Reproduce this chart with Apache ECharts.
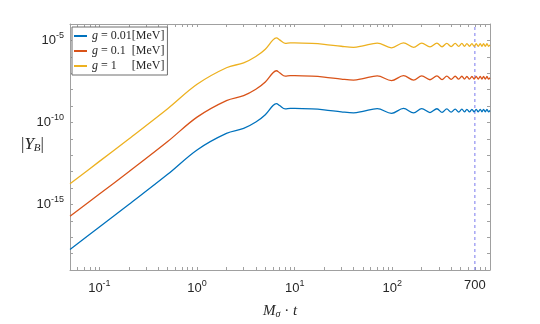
<!DOCTYPE html>
<html>
<head>
<meta charset="utf-8">
<script src="https://cdn.jsdelivr.net/npm/echarts@6/dist/echarts.min.js"></script>
<style>
  html, body { margin: 0; padding: 0; background: #fff; }
  #chart { width: 540px; height: 324px; }
</style>
</head>
<body>
<div id="chart"></div>
<script>
// M_sigma * t
var t = [0.05, 0.1, 0.2, 0.5, 1, 2, 3, 4, 5, 6, 6.5, 7, 8, 9, 10, 15, 20, 30, 40, 50, 70, 98,
  130, 165, 200, 243, 286, 323, 361, 400, 440, 478, 515, 548, 580, 617, 653, 688, 722,
  758, 794, 827, 859, 895, 931, 965, 1000];

// |Y_B| for g = 0.01 MeV
var yG001 = [1.78e-18, 4.2e-17, 9.8e-16, 6.8e-14, 2.1e-12, 2.14e-11, 4.3e-11, 1.05e-10, 2.9e-10,
  1.07e-9, 1.41e-9, 1.07e-9, 6.6e-10, 7.1e-10, 7.1e-10, 6.6e-10, 5.8e-10, 4.4e-10, 3.8e-10,
  4.7e-10, 6.9e-10, 3.55e-10, 7.1e-10, 3.8e-10, 6.9e-10, 4.0e-10, 6.8e-10, 4.1e-10, 6.6e-10,
  4.2e-10, 6.5e-10, 4.3e-10, 6.5e-10, 4.4e-10, 6.3e-10, 4.4e-10, 6.3e-10, 4.4e-10, 6.3e-10,
  4.4e-10, 6.3e-10, 4.4e-10, 6.3e-10, 4.4e-10, 6.3e-10, 4.4e-10, 5.3e-10];

// g = 0.1 MeV
var yG01 = [1.9e-16, 4.3e-15, 9.8e-14, 6.8e-12, 2.1e-10, 2.14e-9, 4.3e-9, 1.05e-8, 2.9e-8,
  1.07e-7, 1.41e-7, 1.07e-7, 6.6e-8, 7.1e-8, 7.1e-8, 6.6e-8, 5.8e-8, 4.4e-8, 3.8e-8,
  4.7e-8, 6.9e-8, 3.55e-8, 7.1e-8, 3.8e-8, 6.9e-8, 4.0e-8, 6.8e-8, 4.1e-8, 6.6e-8,
  4.2e-8, 6.5e-8, 4.3e-8, 6.5e-8, 4.4e-8, 6.3e-8, 4.4e-8, 6.3e-8, 4.4e-8, 6.3e-8,
  4.4e-8, 6.3e-8, 4.4e-8, 6.3e-8, 4.4e-8, 6.3e-8, 4.4e-8, 5.3e-8];

// g = 1 MeV
var yG1 = [1.8e-14, 4.2e-13, 9.8e-12, 6.8e-10, 2.1e-8, 2.14e-7, 4.3e-7, 1.05e-6, 2.9e-6,
  1.07e-5, 1.41e-5, 1.07e-5, 6.6e-6, 7.1e-6, 7.1e-6, 6.6e-6, 5.8e-6, 4.4e-6, 3.8e-6,
  4.7e-6, 6.9e-6, 3.55e-6, 7.1e-6, 3.8e-6, 6.9e-6, 4.0e-6, 6.8e-6, 4.1e-6, 6.6e-6,
  4.2e-6, 6.5e-6, 4.3e-6, 6.5e-6, 4.4e-6, 6.3e-6, 4.4e-6, 6.3e-6, 4.4e-6, 6.3e-6,
  4.4e-6, 6.3e-6, 4.4e-6, 6.3e-6, 4.4e-6, 6.3e-6, 4.4e-6, 5.3e-6];

var seriesNames = ['g = 0.01[MeV]', 'g = 0.1  [MeV]', 'g = 1     [MeV]'];
var xTickLabels = [0.1, 1, 10, 100, 700];
var yTickLabels = [1e-15, 1e-10, 1e-5];
var xRange = [0.05, 1000];
var yRange = [1e-19, 1e-4];
var markX = 700;

var colors = ['#0072BD', '#D95319', '#EDB120'];
var markColor = '#7a7aee';
var axisColor = '#a0a0a0';
var textColor = '#262626';

// minor ticks for log axes
var xTicks = [];
[0.01, 0.1, 1, 10, 100].forEach(function (d) {
  for (var k = 1; k <= 9; k++) {
    var v = d * k;
    if (v >= xRange[0] && v <= xRange[1]) xTicks.push(v);
  }
});
var yTicks = [];
for (var e = -19; e <= -4; e++) yTicks.push(Math.pow(10, e));

function pairs(ys) {
  return t.map(function (x, i) { return [x, ys[i]]; });
}

function powLabel(v) {
  var p = Math.log10(v);
  var r = Math.round(p);
  if (Math.abs(p - r) < 1e-6) return '{b|10}{s|' + r + '}';
  return '{b|' + Math.round(v) + '}';
}

var labelRich = {
  b: { fontSize: 13, fontFamily: 'Liberation Sans', color: textColor },
  s: { fontSize: 9, fontFamily: 'Liberation Sans', color: textColor, padding: [0, 0, 9, 0] }
};

function logAxis(range, pos, ticks, labels) {
  var ax = {
    type: 'log', logBase: 10, min: range[0], max: range[1], position: pos,
    axisLine: { show: true, lineStyle: { color: axisColor, width: 1 } },
    axisTick: { show: true, inside: true, length: 3, customValues: ticks, lineStyle: { color: axisColor } },
    axisLabel: { show: false },
    splitLine: { show: false }
  };
  if (labels) {
    ax.axisLabel = { customValues: labels, margin: (pos === 'left' ? 6 : 9), formatter: powLabel, rich: labelRich };
  }
  return ax;
}

var chart = echarts.init(document.getElementById('chart'));

var xBottom = logAxis(xRange, 'bottom', xTicks, xTickLabels);
xBottom.name = '{i|M}{sub|σ}{n| · }{i|t}';
xBottom.nameLocation = 'middle';
xBottom.nameGap = 34;
xBottom.nameTextStyle = {
  rich: {
    i: { fontFamily: 'Liberation Serif', fontStyle: 'italic', fontSize: 15, color: textColor },
    sub: { fontFamily: 'Liberation Serif', fontStyle: 'italic', fontSize: 10, color: textColor, padding: [5, 0, 0, 0] },
    n: { fontFamily: 'Liberation Serif', fontSize: 15, color: textColor }
  }
};

var option = {
  animation: false,
  backgroundColor: '#fff',
  grid: { left: 70, right: 50, top: 24, bottom: 48 },
  legend: {
    left: 72, top: 27, orient: 'vertical',
    icon: 'rect', itemWidth: 13, itemHeight: 2, itemGap: 1,
    padding: [2, 3, 2, 2],
    borderColor: '#6e6e6e', borderWidth: 1, backgroundColor: '#fff',
    data: seriesNames,
    textStyle: {
      fontFamily: 'Liberation Serif', fontSize: 12, color: textColor, lineHeight: 14,
      rich: { i: { fontFamily: 'Liberation Serif', fontStyle: 'italic', fontSize: 12, color: textColor } }
    },
    formatter: function (name) { return '{i|g}' + name.slice(1); }
  },
  xAxis: [xBottom, logAxis(xRange, 'top', xTicks, null)],
  yAxis: [logAxis(yRange, 'left', yTicks, yTickLabels), logAxis(yRange, 'right', yTicks, null)],
  graphic: [{
    type: 'text', left: 21, top: 136,
    style: {
      text: '{n||}{i|Y}{sub|B}{n||}',
      rich: {
        n: { fontFamily: 'Liberation Serif', fontSize: 17, fill: textColor },
        i: { fontFamily: 'Liberation Serif', fontStyle: 'italic', fontSize: 17, fill: textColor },
        sub: { fontFamily: 'Liberation Serif', fontStyle: 'italic', fontSize: 11, fill: textColor, padding: [7, 0, 0, 0] }
      }
    }
  }],
  series: [
    {
      name: seriesNames[0], type: 'line', data: pairs(yG001), smooth: 0.35, symbol: 'none',
      lineStyle: { color: colors[0], width: 1.3 }, itemStyle: { color: colors[0] }
    },
    {
      name: seriesNames[1], type: 'line', data: pairs(yG01), smooth: 0.35, symbol: 'none',
      lineStyle: { color: colors[1], width: 1.3 }, itemStyle: { color: colors[1] }
    },
    {
      name: seriesNames[2], type: 'line', data: pairs(yG1), smooth: 0.35, symbol: 'none',
      lineStyle: { color: colors[2], width: 1.3 }, itemStyle: { color: colors[2] }
    },
    {
      // vertical reference line at M_sigma t = 700
      name: 'mark', type: 'line', symbol: 'none', silent: true, z: 1,
      data: [[markX, yRange[0]], [markX, yRange[1]]],
      lineStyle: { color: markColor, type: [3, 3], width: 1 },
      itemStyle: { color: markColor }
    }
  ]
};

chart.setOption(option);
</script>
</body>
</html>
